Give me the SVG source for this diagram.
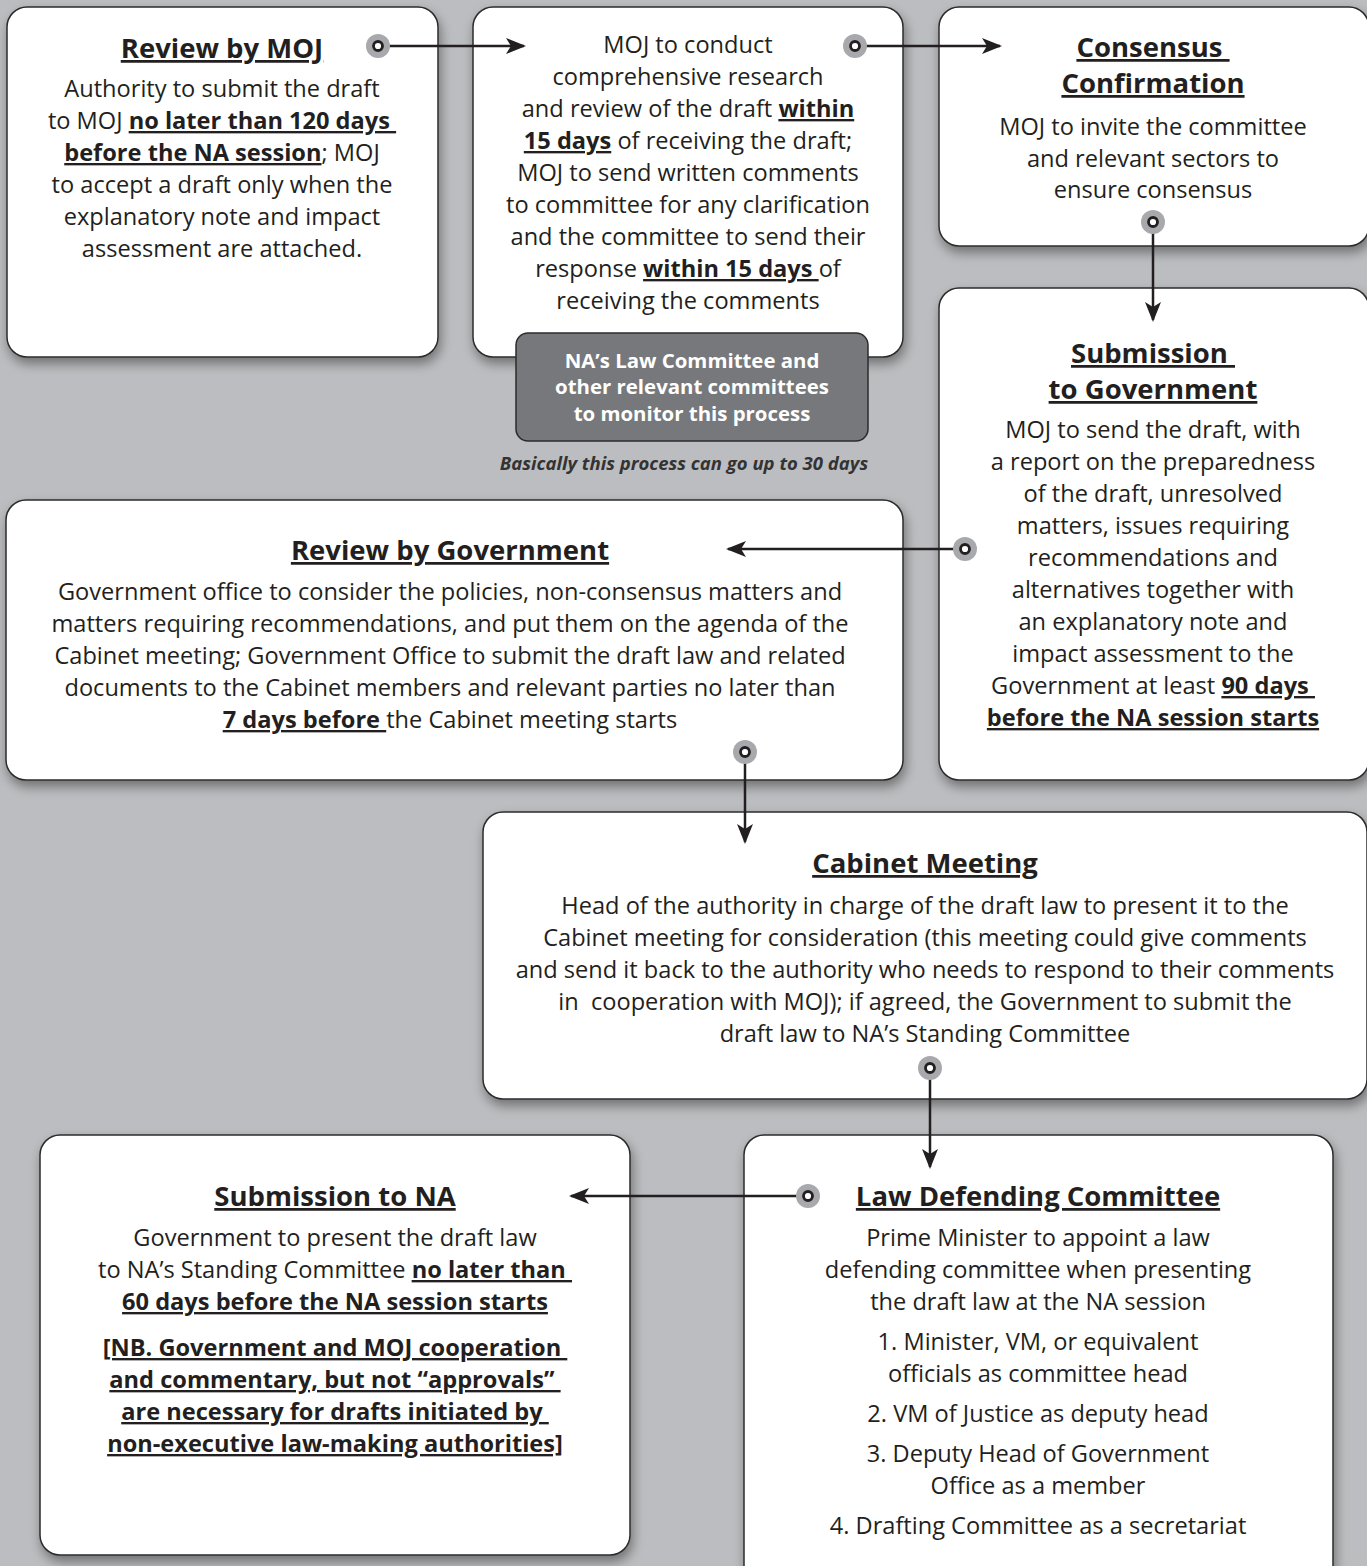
<svg xmlns="http://www.w3.org/2000/svg" width="1367" height="1566" viewBox="0 0 1367 1566">
<defs>
<filter id="sh" x="-10%" y="-10%" width="120%" height="125%">
<feDropShadow dx="2" dy="6" stdDeviation="6" flood-color="#000" flood-opacity="0.4"/>
</filter>
<marker id="ah" markerWidth="20" markerHeight="16" refX="18" refY="8" orient="auto" markerUnits="userSpaceOnUse">
<path d="M0,0 L20,8 L0,16 L5,8 Z" fill="#231f20"/>
</marker>
</defs>
<style>
.box{fill:#fff;stroke:#2b2b2b;stroke-width:1.5;filter:url(#sh)}
text{font-family:"Open Sans","Noto Sans",sans-serif;fill:#231f20;white-space:pre;text-anchor:middle}
.t{font-size:23.6px}
.h{font-size:27.5px;font-weight:bold;text-decoration:underline}
.b{font-weight:bold}
.u{font-weight:bold;text-decoration:underline}
.g{font-size:20.4px;font-weight:bold;fill:#fff}
.i{font-size:18.5px;font-weight:bold;font-style:italic;fill:#333}
.ln{stroke:#231f20;stroke-width:2.5;fill:none}
.halo{fill:#a7a9ac}
.dot{fill:#fff;stroke:#231f20;stroke-width:2.8}
</style>
<rect width="1367" height="1566" fill="#bcbdc0"/>

<g id="review-moj">
<rect class="box" x="7" y="7" width="431" height="350" rx="20"/>
<text class="h" x="222" y="58">Review by MOJ</text>
<text class="t" x="222" y="97">Authority to submit the draft</text>
<text class="t" x="222" y="129">to MOJ <tspan class="u">no later than 120 days </tspan></text>
<text class="t" x="222" y="161"><tspan class="u">before the NA session</tspan>; MOJ</text>
<text class="t" x="222" y="193">to accept a draft only when the</text>
<text class="t" x="222" y="225">explanatory note and impact</text>
<text class="t" x="222" y="257">assessment are attached.</text>
</g>

<g id="moj-research">
<rect class="box" x="473" y="7" width="430" height="350" rx="20"/>
<text class="t" x="688" y="53">MOJ to conduct</text>
<text class="t" x="688" y="85">comprehensive research</text>
<text class="t" x="688" y="117">and review of the draft <tspan class="u">within</tspan></text>
<text class="t" x="688" y="149"><tspan class="u">15 days</tspan> of receiving the draft;</text>
<text class="t" x="688" y="181">MOJ to send written comments</text>
<text class="t" x="688" y="213">to committee for any clarification</text>
<text class="t" x="688" y="245">and the committee to send their</text>
<text class="t" x="688" y="277">response <tspan class="u">within 15 days </tspan>of</text>
<text class="t" x="688" y="309">receiving the comments</text>
</g>

<g id="monitor">
<rect x="516" y="333" width="352" height="108" rx="12" fill="#77787b" stroke="#2b2b2b" stroke-width="1.5"/>
<text class="g" x="692" y="368">NA’s Law Committee and</text>
<text class="g" x="692" y="394">other relevant committees</text>
<text class="g" x="692" y="421">to monitor this process</text>
<text class="i" x="684" y="470">Basically this process can go up to 30 days</text>
</g>

<g id="consensus">
<rect class="box" x="939" y="7" width="430" height="239" rx="20"/>
<text class="h" x="1153" y="57">Consensus </text>
<text class="h" x="1153" y="93">Confirmation</text>
<text class="t" x="1153" y="135">MOJ to invite the committee</text>
<text class="t" x="1153" y="167">and relevant sectors to</text>
<text class="t" x="1153" y="198">ensure consensus</text>
</g>

<g id="submission-gov">
<rect class="box" x="939" y="288" width="430" height="492" rx="20"/>
<text class="h" x="1153" y="363">Submission </text>
<text class="h" x="1153" y="399">to Government</text>
<text class="t" x="1153" y="438">MOJ to send the draft, with</text>
<text class="t" x="1153" y="470">a report on the preparedness</text>
<text class="t" x="1153" y="502">of the draft, unresolved</text>
<text class="t" x="1153" y="534">matters, issues requiring</text>
<text class="t" x="1153" y="566">recommendations and</text>
<text class="t" x="1153" y="598">alternatives together with</text>
<text class="t" x="1153" y="630">an explanatory note and</text>
<text class="t" x="1153" y="662">impact assessment to the</text>
<text class="t" x="1153" y="694">Government at least <tspan class="u">90 days </tspan></text>
<text class="t" x="1153" y="726"><tspan class="u">before the NA session starts</tspan></text>
</g>

<g id="review-gov">
<rect class="box" x="6" y="500" width="897" height="280" rx="20"/>
<text class="h" x="450" y="560">Review by Government</text>
<text class="t" x="450" y="600">Government office to consider the policies, non-consensus matters and</text>
<text class="t" x="450" y="632">matters requiring recommendations, and put them on the agenda of the</text>
<text class="t" x="450" y="664">Cabinet meeting; Government Office to submit the draft law and related</text>
<text class="t" x="450" y="696">documents to the Cabinet members and relevant parties no later than</text>
<text class="t" x="450" y="728"><tspan class="u">7 days before </tspan>the Cabinet meeting starts</text>
</g>

<g id="cabinet">
<rect class="box" x="483" y="812" width="884" height="287" rx="20"/>
<text class="h" x="925" y="873">Cabinet Meeting</text>
<text class="t" x="925" y="914">Head of the authority in charge of the draft law to present it to the</text>
<text class="t" x="925" y="946">Cabinet meeting for consideration (this meeting could give comments</text>
<text class="t" x="925" y="978">and send it back to the authority who needs to respond to their comments</text>
<text class="t" x="925" y="1010">in  cooperation with MOJ); if agreed, the Government to submit the</text>
<text class="t" x="925" y="1042">draft law to NA’s Standing Committee</text>
</g>

<g id="submission-na">
<rect class="box" x="40" y="1135" width="590" height="420" rx="20"/>
<text class="h" x="335" y="1206">Submission to NA</text>
<text class="t" x="335" y="1246">Government to present the draft law</text>
<text class="t" x="335" y="1278">to NA’s Standing Committee <tspan class="u">no later than </tspan></text>
<text class="t" x="335" y="1310"><tspan class="u">60 days before the NA session starts</tspan></text>
<text class="t u" x="335" y="1356">[NB. Government and MOJ cooperation </text>
<text class="t u" x="335" y="1388">and commentary, but not “approvals” </text>
<text class="t u" x="335" y="1420">are necessary for drafts initiated by </text>
<text class="t u" x="335" y="1452">non-executive law-making authorities]</text>
</g>

<g id="law-defending">
<rect class="box" x="744" y="1135" width="589" height="460" rx="20"/>
<text class="h" x="1038" y="1206">Law Defending Committee</text>
<text class="t" x="1038" y="1246">Prime Minister to appoint a law</text>
<text class="t" x="1038" y="1278">defending committee when presenting</text>
<text class="t" x="1038" y="1310">the draft law at the NA session</text>
<text class="t" x="1038" y="1350">1. Minister, VM, or equivalent</text>
<text class="t" x="1038" y="1382">officials as committee head</text>
<text class="t" x="1038" y="1422">2. VM of Justice as deputy head</text>
<text class="t" x="1038" y="1462">3. Deputy Head of Government</text>
<text class="t" x="1038" y="1494">Office as a member</text>
<text class="t" x="1038" y="1534">4. Drafting Committee as a secretariat</text>
</g>

<g id="connectors">
<line class="ln" x1="378" y1="46" x2="524" y2="46" marker-end="url(#ah)"/>
<circle class="halo" cx="378" cy="46" r="12"/><circle class="dot" cx="378" cy="46" r="4.5"/>
<line class="ln" x1="855" y1="46" x2="1000" y2="46" marker-end="url(#ah)"/>
<circle class="halo" cx="855" cy="46" r="12"/><circle class="dot" cx="855" cy="46" r="4.5"/>
<line class="ln" x1="1153" y1="222" x2="1153" y2="320" marker-end="url(#ah)"/>
<circle class="halo" cx="1153" cy="222" r="12"/><circle class="dot" cx="1153" cy="222" r="4.5"/>
<line class="ln" x1="965" y1="549" x2="728" y2="549" marker-end="url(#ah)"/>
<circle class="halo" cx="965" cy="549" r="12"/><circle class="dot" cx="965" cy="549" r="4.5"/>
<line class="ln" x1="745" y1="752" x2="745" y2="842" marker-end="url(#ah)"/>
<circle class="halo" cx="745" cy="752" r="12"/><circle class="dot" cx="745" cy="752" r="4.5"/>
<line class="ln" x1="930" y1="1068" x2="930" y2="1167" marker-end="url(#ah)"/>
<circle class="halo" cx="930" cy="1068" r="12"/><circle class="dot" cx="930" cy="1068" r="4.5"/>
<line class="ln" x1="808" y1="1196" x2="571" y2="1196" marker-end="url(#ah)"/>
<circle class="halo" cx="808" cy="1196" r="12"/><circle class="dot" cx="808" cy="1196" r="4.5"/>
</g>
</svg>
